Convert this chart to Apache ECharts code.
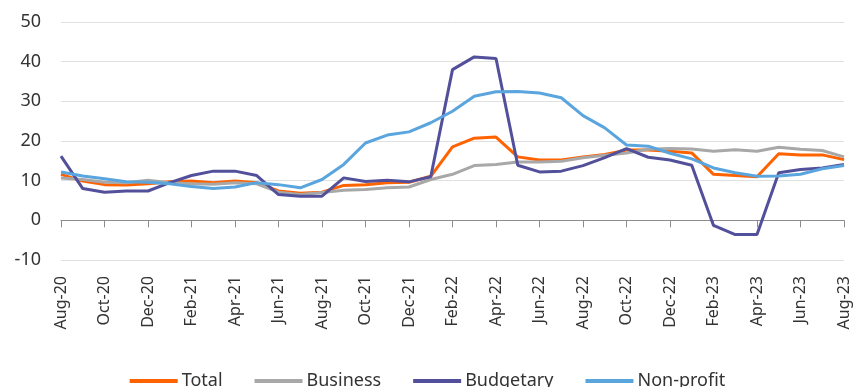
<!DOCTYPE html>
<html>
<head>
<meta charset="utf-8">
<script src="https://cdn.jsdelivr.net/npm/echarts@6/dist/echarts.min.js"></script>
<style>
    html, body {margin: 0; padding: 0; background: #fff;}
    #chart {width: 855px; height: 387px;}
</style>
</head>
<body>
<div id="chart"></div>
<script>
const months = [
    'Aug-20', 'Sep-20', 'Oct-20', 'Nov-20', 'Dec-20', 'Jan-21', 'Feb-21', 'Mar-21', 'Apr-21', 'May-21',
    'Jun-21', 'Jul-21', 'Aug-21', 'Sep-21', 'Oct-21', 'Nov-21', 'Dec-21', 'Jan-22', 'Feb-22', 'Mar-22',
    'Apr-22', 'May-22', 'Jun-22', 'Jul-22', 'Aug-22', 'Sep-22', 'Oct-22', 'Nov-22', 'Dec-22', 'Jan-23',
    'Feb-23', 'Mar-23', 'Apr-23', 'May-23', 'Jun-23', 'Jul-23', 'Aug-23'
];
const total = [
    11.6, 9.9, 9.0, 8.9, 9.2, 9.7, 9.9, 9.5, 9.9, 9.5,
    7.4, 6.8, 7.1, 8.8, 9.0, 9.5, 9.6, 11.1, 18.5, 20.7,
    21.0, 16.0, 15.2, 15.2, 16.0, 16.6, 17.7, 17.7, 17.4, 17.0,
    11.6, 11.3, 11.0, 16.8, 16.5, 16.5, 15.3
];
const business = [
    10.7, 10.3, 9.6, 9.5, 10.1, 9.5, 9.2, 9.1, 9.5, 9.2,
    7.1, 6.5, 7.0, 7.6, 7.8, 8.2, 8.4, 10.3, 11.6, 13.8,
    14.1, 14.7, 14.7, 14.9, 15.8, 16.4, 17.0, 17.9, 18.1, 18.0,
    17.4, 17.8, 17.4, 18.4, 17.9, 17.6, 16.0
];
const budgetary = [
    16.2, 8.0, 7.1, 7.4, 7.4, 9.5, 11.3, 12.4, 12.4, 11.3,
    6.5, 6.1, 6.1, 10.7, 9.8, 10.1, 9.7, 11.0, 38.0, 41.2,
    40.8, 13.9, 12.2, 12.4, 13.8, 15.8, 18.1, 15.9, 15.2, 13.9,
    -1.3, -3.6, -3.6, 12.0, 12.8, 13.2, 14.1
];
const nonProfit = [
    12.2, 11.2, 10.5, 9.7, 9.6, 9.2, 8.5, 8.0, 8.4, 9.5,
    9.0, 8.2, 10.3, 14.1, 19.5, 21.5, 22.3, 24.6, 27.5, 31.3,
    32.4, 32.5, 32.1, 30.9, 26.4, 23.3, 19.0, 18.7, 16.9, 15.5,
    13.2, 12.0, 11.1, 11.2, 11.6, 13.0, 13.8
];

const font = 'Noto Sans';
const myChart = echarts.init(document.getElementById('chart'));

const line = (name, data, color) => ({
    name: name,
    type: 'line',
    data: data,
    symbol: 'none',
    color: color,
    lineStyle: {width: 3, color: color},
    xAxisIndex: 0
});

myChart.setOption({
    animation: false,
    textStyle: {fontFamily: font},
    grid: {left: 61, right: 11, top: 22, bottom: 127},
    legend: {
        bottom: -8,
        left: 'center',
        itemWidth: 48,
        itemHeight: 4,
        itemGap: 32,
        icon: 'rect',
        textStyle: {fontSize: 18, color: '#333', fontFamily: font, padding: [0, 0, 0, -1]},
        data: ['Total', 'Business', 'Budgetary', 'Non-profit']
    },
    xAxis: [
        {
            type: 'category',
            data: months,
            boundaryGap: false,
            axisLine: {onZero: true, lineStyle: {color: '#8c8c8c', width: 1}},
            axisTick: {show: true, interval: 1, length: 7, lineStyle: {color: '#8c8c8c'}},
            axisLabel: {show: false},
            splitLine: {show: false}
        },
        {
            type: 'category',
            data: months,
            boundaryGap: false,
            position: 'bottom',
            axisLine: {show: false, onZero: false},
            axisTick: {show: false},
            axisLabel: {
                interval: 1,
                rotate: 90,
                margin: 16,
                fontSize: 16,
                color: '#333',
                fontFamily: font
            },
            splitLine: {show: false}
        }
    ],
    yAxis: {
        type: 'value',
        min: -10,
        max: 50,
        interval: 10,
        axisLine: {show: false},
        axisTick: {show: false},
        axisLabel: {fontSize: 18, color: '#333', margin: 20, fontFamily: font},
        splitLine: {lineStyle: {color: '#e0e0e0', width: 1}}
    },
    series: [
        line('Total', total, '#FF6200'),
        line('Business', business, '#A8A8A8'),
        line('Budgetary', budgetary, '#52509A'),
        line('Non-profit', nonProfit, '#5AA5DE')
    ]
});
</script>
</body>
</html>
